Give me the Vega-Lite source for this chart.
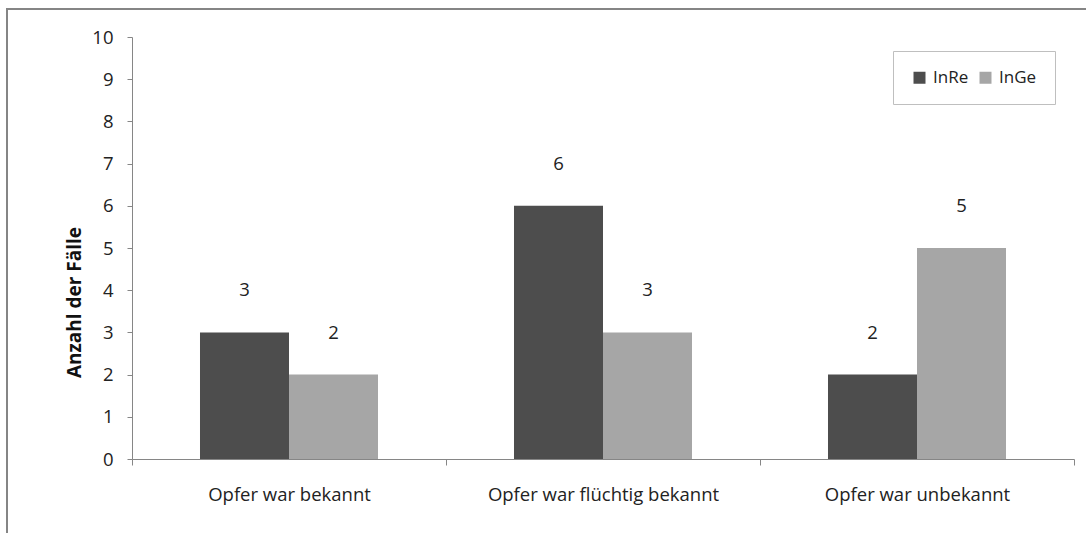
{
  "$schema": "https://vega.github.io/schema/vega-lite/v6.json",
  "width": 1100,
  "height": 540,
  "autosize": {"type": "none"},
  "padding": {"left": 7, "top": 9, "right": 0, "bottom": 0},
  "background": "white",
  "config": {
    "view": {"stroke": "#858585", "strokeWidth": 2},
    "font": "Open Sans"
  },
  "data": {
    "values": [
      {"kategorie": "Opfer war bekannt", "gruppe": "InRe", "anzahl": 3},
      {"kategorie": "Opfer war bekannt", "gruppe": "InGe", "anzahl": 2},
      {"kategorie": "Opfer war flüchtig bekannt", "gruppe": "InRe", "anzahl": 6},
      {"kategorie": "Opfer war flüchtig bekannt", "gruppe": "InGe", "anzahl": 3},
      {"kategorie": "Opfer war unbekannt", "gruppe": "InRe", "anzahl": 2},
      {"kategorie": "Opfer war unbekannt", "gruppe": "InGe", "anzahl": 5}
    ]
  },
  "encoding": {
    "x": {
      "field": "kategorie", "type": "nominal", "sort": null,
      "scale": {"paddingInner": 0, "paddingOuter": 0, "range": [125, 1067]},
      "axis": {
        "title": null, "labelAngle": 0, "labelFont": "Open Sans", "labelFontSize": 18.5,
        "labelColor": "#222222", "labelPadding": 20, "labelLimit": 0, "tickBand": "extent",
        "tickSize": 6, "tickColor": "#868686", "domainColor": "#868686", "grid": false,
        "offset": -90
      }
    },
    "xOffset": {
      "field": "gruppe", "type": "nominal", "sort": ["InRe", "InGe"],
      "scale": {"paddingInner": 0, "paddingOuter": 0.764}
    },
    "y": {
      "field": "anzahl", "type": "quantitative",
      "scale": {"domain": [0, 10], "nice": false, "range": [450, 28]},
      "axis": {
        "title": "Anzahl der Fälle", "titleFont": "Open Sans", "titleFontSize": 19,
        "titleFontWeight": "bold", "titleColor": "#111111", "titlePadding": 7,
        "titleY": 293,
        "values": [0,1,2,3,4,5,6,7,8,9,10], "labelFontSize": 18.5, "labelColor": "#222222",
        "labelPadding": 14, "tickSize": 5, "tickColor": "#868686", "domainColor": "#868686",
        "grid": false, "offset": -125
      }
    }
  },
  "layer": [
    {
      "mark": {"type": "bar"},
      "encoding": {
        "color": {
          "field": "gruppe", "type": "nominal", "sort": ["InRe", "InGe"],
          "scale": {"domain": ["InRe", "InGe"], "range": ["#4d4d4d", "#a6a6a6"]},
          "legend": {
            "title": null, "orient": "none", "legendX": 886, "legendY": 42,
            "direction": "horizontal", "symbolType": "square", "symbolSize": 144,
            "symbolStrokeWidth": 0, "labelFontSize": 17, "labelFont": "Open Sans",
            "labelColor": "#222222", "strokeColor": "#bfbfbf", "padding": 18,
            "columnPadding": 8, "labelOffset": 5, "fillColor": "white"
          }
        }
      }
    },
    {
      "mark": {"type": "text", "dy": -42, "baseline": "middle", "fontSize": 18.5, "font": "Open Sans", "color": "#222222"},
      "encoding": {"text": {"field": "anzahl", "type": "quantitative"}}
    }
  ]
}
